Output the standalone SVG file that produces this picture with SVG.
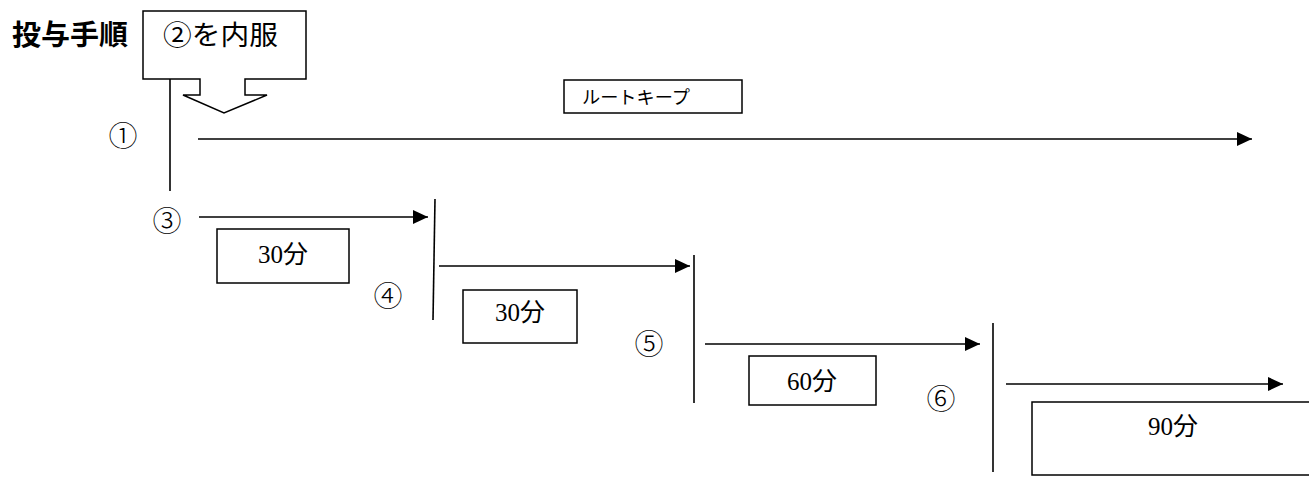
<svg xmlns="http://www.w3.org/2000/svg" width="1309" height="477" viewBox="0 0 1309 477">
<defs>
<marker id="ah" markerUnits="userSpaceOnUse" markerWidth="16" markerHeight="16" viewBox="0 0 16 16" refX="15" refY="8" orient="auto">
<path d="M0,1 L15,8 L0,15 Z" fill="#000"/>
</marker>
</defs>
<style>
.t{font-family:"Liberation Serif","Noto Sans CJK JP",serif;fill:#000}
.c{font-family:"Noto Sans CJK JP",sans-serif;font-weight:300;fill:#000;font-size:29px}
.box{fill:#fff;stroke:#000;stroke-width:1.5}
.ln{stroke:#000;stroke-width:1.6;fill:none}
.ar{stroke:#000;stroke-width:1.6;fill:none;marker-end:url(#ah)}
</style>
<rect width="1309" height="477" fill="#fff"/>
<text id="title" x="12" y="45" font-family="'Noto Sans CJK JP',sans-serif" font-weight="bold" font-size="28" textLength="116" lengthAdjust="spacingAndGlyphs">投与手順</text>
<g id="callout">
<path class="box" d="M143,11 H306 V79 H245 V95 H267 L224,113 L183,95 H200 V79 H143 Z"/>
<text class="t" x="163" y="45" font-size="27" textLength="115" lengthAdjust="spacingAndGlyphs">②を内服</text>
</g>
<g id="routekeep">
<rect class="box" x="564" y="80" width="178" height="33"/>
<text class="t" x="582" y="104" font-size="18" textLength="108" lengthAdjust="spacingAndGlyphs">ルートキープ</text>
</g>
<g id="labels">
<text class="c" x="123" y="147" text-anchor="middle">①</text>
<text class="c" x="167" y="232" text-anchor="middle">③</text>
<text class="c" x="388" y="307" text-anchor="middle">④</text>
<text class="c" x="649" y="355" text-anchor="middle">⑤</text>
<text class="c" x="941" y="410" text-anchor="middle">⑥</text>
</g>
<g id="box30a">
<rect class="box" x="217" y="229" width="132" height="54"/>
<text class="t" x="283" y="263" font-size="25" text-anchor="middle">30分</text>
</g>
<g id="box30b">
<rect class="box" x="463" y="290" width="114" height="53"/>
<text class="t" x="520" y="321" font-size="25" text-anchor="middle">30分</text>
</g>
<g id="box60">
<rect class="box" x="749" y="356" width="127" height="49"/>
<text class="t" x="812" y="390" font-size="25" text-anchor="middle">60分</text>
</g>
<g id="box90">
<rect class="box" x="1032" y="402" width="290" height="73"/>
<text class="t" x="1173" y="435" font-size="25" text-anchor="middle">90分</text>
</g>
<g id="connectors">
<line class="ln" x1="170" y1="79" x2="170" y2="191"/>
<line class="ar" x1="198" y1="139" x2="1252" y2="139"/>
<line class="ar" x1="199" y1="217" x2="428" y2="217"/>
<line class="ln" x1="435" y1="199" x2="433" y2="320"/>
<line class="ar" x1="439" y1="266" x2="690" y2="266"/>
<line class="ln" x1="694" y1="255" x2="694" y2="403"/>
<line class="ar" x1="705" y1="344" x2="980" y2="344"/>
<line class="ln" x1="993" y1="323" x2="993" y2="472"/>
<line class="ar" x1="1006" y1="384" x2="1283" y2="384"/>
</g>
</svg>
